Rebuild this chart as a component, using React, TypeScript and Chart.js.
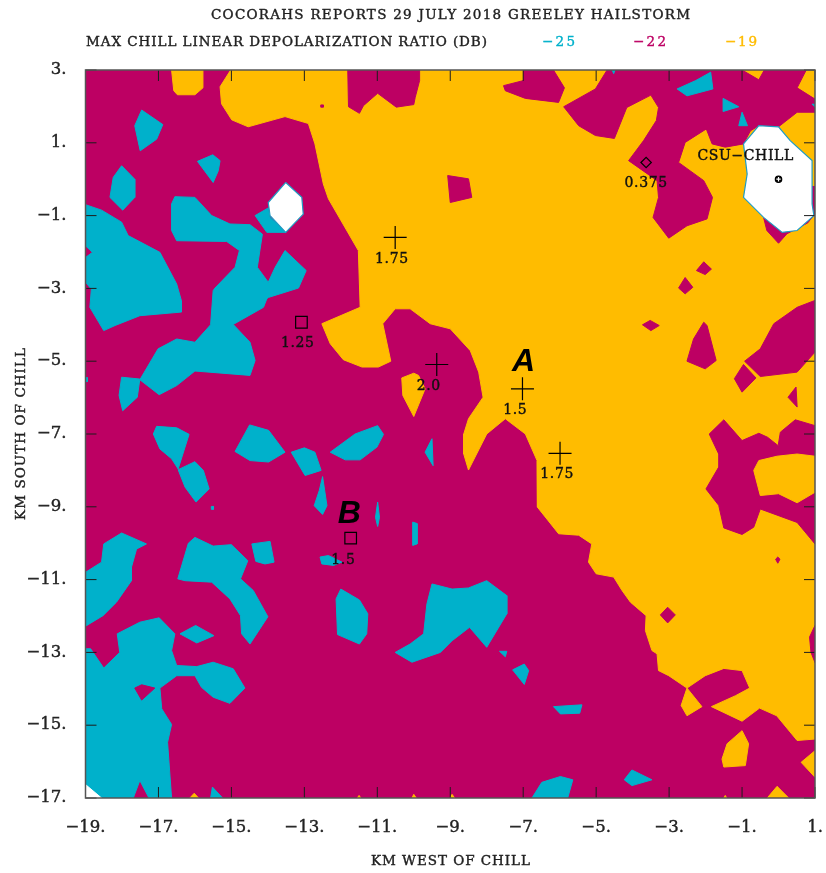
import React, { useEffect, useRef } from "react";
import { Chart, registerables } from "chart.js";

Chart.register(...registerables);

type P = [number, number];

const xTicks = [-19, -17, -15, -13, -11, -9, -7, -5, -3, -1, 1];
const yTicks = [3, 1, -1, -3, -5, -7, -9, -11, -13, -15, -17];

const MAGENTA = "#bd0063";
const CYAN = "#00b1cb";
const YELLOW = "#ffbc00";

const baseField: P[][] = [[[-19, 3], [1, 3], [1, -17], [-19, -17]]];

const yellowRegions: P[][] = [
  [[-15.02, 3], [-15.31, 2.54], [-15.27, 2.07], [-14.99, 1.63], [-14.54, 1.44], [-13.53, 1.72], [-12.89, 1.53], [-12.71, 0.97], [-12.48, -0.13], [-12.34, -0.54], [-11.52, -1.96], [-11.47, -3.52], [-12.52, -3.97], [-12.29, -4.52], [-11.93, -4.96], [-11.42, -5.16], [-10.97, -5.16], [-10.63, -5.0], [-10.85, -3.97], [-10.51, -3.56], [-10.1, -3.56], [-9.55, -3.97], [-9.0, -4.11], [-8.45, -4.71], [-8.22, -5.3], [-8.1, -5.99], [-8.5, -6.58], [-8.63, -7.0], [-8.63, -7.55], [-8.5, -7.99], [-8.0, -7.0], [-7.49, -6.58], [-6.94, -7.0], [-6.62, -7.73], [-6.61, -9.01], [-6.03, -9.74], [-5.48, -9.78], [-5.12, -10.02], [-5.21, -10.52], [-5.0, -10.84], [-4.52, -10.93], [-4.29, -11.3], [-4.06, -11.62], [-3.63, -11.99], [-3.65, -12.4], [-3.47, -12.95], [-3.33, -13.04], [-3.29, -13.5], [-3.01, -13.64], [-2.51, -13.98], [-2.01, -13.64], [-1.5, -13.44], [-1.0, -13.5], [-0.79, -13.98], [-1.18, -14.19], [-1.84, -14.49], [-1.0, -14.89], [-0.52, -14.53], [-0.05, -14.74], [0.51, -15.42], [1, -15.38], [1, 3]],
  [[-16.64, 3], [-16.58, 2.43], [-16.48, 2.32], [-16.0, 2.32], [-15.78, 2.51], [-15.78, 3]],
  [[-10.33, -5.46], [-10.3, -5.94], [-10.0, -6.52], [-9.69, -5.76], [-9.87, -5.39], [-10.0, -5.33]],
  [[-2.51, -13.98], [-2.67, -14.46], [-2.51, -14.74], [-2.1, -14.49]],
  [[-1.0, -15.15], [-1.41, -15.51], [-1.55, -15.93], [-1.5, -16.15], [-0.91, -16.11], [-0.82, -15.51]],
  [[1, -15.7], [0.62, -16.02], [1, -16.43]],
  [[-0.04, -16.68], [-0.31, -17], [0.28, -17]],
  [[-16.14, -17], [-16.02, -16.87], [-15.9, -17]],
  [[-11.55, -17], [-11.5, -16.93], [-11.45, -17]],
  [[-10.05, -17], [-10.0, -16.9], [-9.93, -17]],
  [[-9.0, -17], [-8.95, -16.9], [-8.88, -17]],
  [[-1.5, -17], [-1.46, -16.93], [-1.42, -17]],
];

const magentaIslands: P[][] = [
  [[-11.81, 3], [-11.79, 1.99], [-11.49, 1.81], [-11.38, 2.02], [-10.99, 2.36], [-10.48, 1.98], [-10.0, 2.05], [-9.96, 2.25], [-9.84, 2.71], [-9.84, 3]],
  [[-6.99, 3], [-6.99, 2.71], [-7.54, 2.57], [-7.49, 2.43], [-6.94, 2.22], [-6.03, 2.11], [-5.87, 2.51], [-6.17, 3]],
  [[-4.7, 3], [-5.02, 2.48], [-5.89, 1.99], [-5.48, 1.47], [-5.02, 1.2], [-4.5, 1.12], [-4.16, 1.97], [-3.5, 2.31], [-3.29, 1.97], [-3.35, 1.61], [-3.7, 1.06], [-4.11, 0.51], [-3.33, -0.04], [-3.29, -0.5], [-3.44, -1.05], [-3.01, -1.62], [-2.51, -1.28], [-1.96, -1.09], [-1.81, -0.5], [-2.05, -0.04], [-2.74, 0.46], [-2.56, 1.01], [-1.98, 1.38], [-1.82, 0.97], [-1.46, 0.88], [-0.96, 0.97], [-0.77, 1.33], [-0.54, 1.47], [0, 1.44], [0.51, 1.84], [1, 1.84], [1, 2.2], [0.51, 2.51], [0.76, 3], [-0.39, 3], [-0.54, 2.73], [-1.0, 3]],
  [[-0.41, -1.05], [-0.32, -1.41], [0, -1.76], [0.23, -1.5], [0.8, -1.2], [1, -0.95], [1, -0.2], [0.8, -0.2]],
  [[-9.07, 0.1], [-8.5, 0.01], [-8.41, -0.5], [-9.0, -0.64]],
  [[-2.05, -2.27], [-1.84, -2.47], [-2.01, -2.62], [-2.25, -2.51]],
  [[-2.56, -2.7], [-2.35, -2.97], [-2.56, -3.15], [-2.74, -2.99]],
  [[-3.52, -3.88], [-3.27, -4.02], [-3.5, -4.16], [-3.73, -4.0]],
  [[-2.05, -3.93], [-1.96, -4.02], [-1.71, -4.98], [-2.01, -5.21], [-2.51, -5.0], [-2.33, -4.39]],
  [[1, -3.33], [0.51, -3.52], [-0.13, -3.97], [-0.5, -4.66], [-0.93, -5], [-0.5, -5.42], [0.51, -5.3], [1, -4.75]],
  [[-0.96, -5.09], [-0.62, -5.46], [-1.0, -5.85], [-1.21, -5.48]],
  [[0.48, -5.71], [0.51, -6.26], [0.26, -5.99]],
  [[-1.5, -6.61], [-1, -7.18], [-0.54, -6.98], [-0.3, -7.09], [-0.01, -7.32], [0.05, -6.95], [0.46, -6.61], [1, -6.77], [1, -10.02], [0.51, -9.43], [-0.5, -9.06], [-0.68, -9.56], [-1, -9.76], [-1.5, -9.58], [-1.64, -8.96], [-1.99, -8.51], [-1.64, -7.91], [-1.64, -7.55], [-1.9, -7.0]],
  [[-0.08, -10.44], [-0.02, -10.38], [0.04, -10.44], [-0.02, -10.55]],
  [[-3.04, -11.76], [-2.83, -11.97], [-3.04, -12.19], [-3.24, -11.97]],
  [[1, -12.26], [0.85, -12.58], [0.89, -13.0], [1, -13.28]],
  [[-12.55, 2.04], [-12.48, 2.04], [-12.48, 1.98], [-12.55, 1.98]],
];

const yellowHoles: P[][] = [
  [[-0.68, -8.0], [-0.54, -7.73], [-0.04, -7.61], [0.51, -7.55], [1, -7.61], [1, -8.6], [0.51, -8.89], [0, -8.64], [-0.5, -8.69]],
];

const cyanPatches: P[][] = [
  [[-19, -0.7], [-18.56, -0.85], [-18.01, -1.18], [-17.83, -1.55], [-16.96, -2.01], [-16.5, -2.88], [-16.37, -3.34], [-16.37, -3.65], [-17.51, -3.75], [-18.19, -4.02], [-18.5, -4.16], [-18.88, -3.52], [-18.84, -3.02], [-19, -2.83], [-19, -2.15], [-18.81, -2.01], [-19, -1.83]],
  [[-17.46, 1.9], [-16.88, 1.5], [-17.05, 1.1], [-17.5, 0.78], [-17.65, 1.47]],
  [[-18.01, 0.37], [-17.65, 0.0], [-17.65, -0.5], [-17.98, -0.85], [-18.33, -0.5], [-18.24, 0.05]],
  [[-15.51, 0.67], [-15.31, 0.51], [-15.36, 0.23], [-15.5, -0.09], [-15.93, 0.49]],
  [[-16.55, -0.48], [-16.0, -0.5], [-15.54, -1], [-15.04, -1.23], [-14.49, -1.25], [-14.15, -1.51], [-14.29, -2.42], [-13.99, -2.83], [-13.8, -2.42], [-13.53, -1.96], [-12.95, -2.51], [-13.16, -2.99], [-13.99, -3.25], [-14.03, -3.29], [-14.12, -3.52], [-14.95, -3.99], [-14.49, -4.48], [-14.35, -4.98], [-14.49, -5.39], [-16, -5.27], [-16.5, -5.67], [-16.98, -5.92], [-17.51, -5.51], [-17.01, -4.66], [-16.5, -4.39], [-16, -4.48], [-15.57, -4.0], [-15.5, -3.06], [-15.45, -2.99], [-14.9, -2.42], [-14.78, -1.96], [-15.13, -1.71], [-16.5, -1.69], [-16.64, -1.41], [-16.64, -0.68]],
  [[-14.35, -1], [-13.99, -0.79], [-13.94, -1.05], [-13.51, -1.46], [-14.03, -1.46]],
  [[-18.01, -5.44], [-17.51, -5.49], [-17.58, -5.99], [-17.98, -6.36], [-18.08, -5.94]],
  [[-19, -5.45], [-18.95, -5.45], [-18.95, -5.56], [-19, -5.56]],
  [[-17.05, -6.79], [-16.5, -6.83], [-16.16, -7.01], [-16.46, -7.96], [-16.64, -7.68], [-16.96, -7.41], [-17.14, -7.0]],
  [[-16.46, -7.98], [-16, -7.76], [-15.77, -8], [-15.61, -8.51], [-15.97, -8.87], [-16.27, -8.46]],
  [[-15.55, -8.99], [-15.49, -8.99], [-15.49, -9.07], [-15.55, -9.07]],
  [[-14.5, -6.75], [-13.98, -6.9], [-13.53, -7.5], [-13.98, -7.77], [-14.49, -7.73], [-14.9, -7.48]],
  [[-13.36, -7.5], [-13.0, -7.38], [-12.71, -7.5], [-12.54, -8], [-12.98, -8.14]],
  [[-12.5, -8.17], [-12.38, -8.97], [-12.5, -9.21], [-12.73, -8.97], [-12.59, -8.55]],
  [[-12.29, -7.5], [-11.61, -7], [-10.99, -6.77], [-10.83, -7.01], [-11.01, -7.36], [-11.47, -7.71], [-11.88, -7.71]],
  [[-10.99, -8.87], [-10.94, -9.29], [-10.99, -9.54], [-11.05, -9.29]],
  [[-10.03, -9.42], [-9.91, -9.46], [-9.91, -10.02], [-10.03, -10.06]],
  [[-9.5, -7.13], [-9.47, -7.87], [-9.69, -7.5]],
  [[-12.57, -10.38], [-12.34, -10.34], [-11.97, -10.52], [-12.2, -10.61], [-12.52, -10.57]],
  [[-18.01, -9.72], [-17.33, -10.02], [-17.6, -10.16], [-17.74, -10.66], [-17.74, -11.03], [-18.15, -11.62], [-18.52, -11.99], [-19, -12.28], [-19, -10.8], [-18.56, -10.52], [-18.5, -10.02]],
  [[-16, -9.84], [-15.5, -10.08], [-15, -10.04], [-14.55, -10.48], [-14.75, -10.98], [-14.4, -11.3], [-14, -12.02], [-14.49, -12.77], [-14.72, -12.49], [-14.75, -11.99], [-15.04, -11.53], [-15.54, -11.07], [-16.27, -11.03], [-16.47, -10.98], [-16.18, -10.0]],
  [[-14.44, -10.02], [-13.94, -9.95], [-13.83, -10.52], [-14.08, -10.57], [-14.33, -10.5]],
  [[-19, -12.9], [-18.86, -12.9], [-18.5, -13.43], [-18.06, -13], [-18.13, -12.49], [-17.51, -12.17], [-16.98, -12.05], [-16.55, -12.49], [-16.64, -12.95], [-16.5, -13.36], [-15.95, -13.39], [-15.5, -13.27], [-14.95, -13.45], [-14.63, -13.98], [-15.04, -14.4], [-15.5, -14.23], [-15.82, -13.96], [-16, -13.64], [-16.5, -13.64], [-16.96, -13.98], [-16.91, -14.55], [-16.64, -14.98], [-16.75, -15.47], [-16.64, -17], [-17.26, -17], [-17.51, -16.52], [-17.69, -17], [-19, -17]],
  [[-16.41, -12.49], [-15.98, -12.26], [-15.48, -12.54], [-15.95, -12.74]],
  [[-15.57, -17], [-15.52, -16.7], [-15.24, -17]],
  [[-12.0, -11.26], [-11.49, -11.56], [-11.26, -11.94], [-11.29, -12.49], [-11.49, -12.77], [-12.09, -12.51], [-12.13, -11.53]],
  [[-9.5, -11.12], [-8.95, -11.26], [-8.5, -11.23], [-8, -11.03], [-7.45, -11.44], [-7.45, -11.94], [-8, -12.86], [-8.47, -12.31], [-8.95, -12.68], [-9.27, -13], [-10.05, -13.27], [-10.51, -13], [-10.1, -12.77], [-9.73, -12.49], [-9.64, -11.67]],
  [[-7.65, -12.97], [-7.45, -12.97], [-7.49, -13.12]],
  [[-7.29, -13.48], [-6.97, -13.32], [-6.85, -13.5], [-6.97, -13.88]],
  [[-6.17, -14.49], [-5.39, -14.44], [-5.45, -14.67], [-5.98, -14.69]],
  [[-4.23, -16.5], [-4.02, -16.23], [-3.47, -16.5], [-4.02, -16.66]],
  [[-6.76, -17], [-6.49, -16.57], [-5.98, -16.41], [-5.64, -16.5], [-5.78, -17]],
  [[-2.78, 2.48], [-2.27, 2.71], [-1.86, 2.94], [-1.8, 2.48], [-2.51, 2.29]],
  [[-1.52, 2.22], [-1.09, 1.99], [-1.52, 1.86]],
  [[-1, 1.84], [-0.85, 1.47], [-1.09, 1.47]],
  [[0.92, 2.06], [1, 2.06], [1, 1.98]],
  [[-4.56, 3], [-4.48, 3], [-4.52, 2.9]],
];

const magentaOverCyan: P[][] = [
  [[-17.65, -13.98], [-17.46, -13.89], [-17.1, -13.98], [-17.46, -14.31]],
];

const whiteHoles: P[][] = [
  [[-13.51, -0.09], [-13.07, -0.5], [-13.03, -0.96], [-13.51, -1.46], [-13.94, -1.0], [-13.99, -0.64]],
  [[-0.96, 0.97], [-0.54, 1.47], [0, 1.44], [0.32, 1.06], [0.92, 0.51], [0.92, -0.68], [0.97, -1.0], [0.51, -1.41], [0.1, -1.46], [-0.41, -1.05], [-0.96, -0.5], [-0.86, 0.14]],
];

const whiteCorner: P[][] = [[[-19, -16.63], [-19, -17], [-18.56, -17]]];

const crossPoints = [{ x: -10.51, y: -1.6 }, { x: -9.37, y: -5.09 }, { x: -7.02, y: -5.76 }, { x: -5.99, y: -7.53 }];
const squarePoints = [{ x: -13.08, y: -3.93 }, { x: -11.73, y: -9.86 }];
const diamondPoints = [{ x: -3.63, y: 0.46 }];
const chillPoint = [{ x: 0, y: 0 }];

const reportLabels: { t: string; x: number; y: number }[] = [
  { t: "1.75", x: -10.6, y: -2.21 },
  { t: "2.0", x: -9.59, y: -5.7 },
  { t: "1.5", x: -7.22, y: -6.34 },
  { t: "1.75", x: -6.07, y: -8.1 },
  { t: "1.25", x: -13.18, y: -4.52 },
  { t: "1.5", x: -11.93, y: -10.46 },
  { t: "0.375", x: -3.63, y: -0.11 },
  { t: "CSU\u2212CHILL", x: -0.9, y: 0.62 },
];
const zoneLabels: { t: string; x: number; y: number }[] = [
  { t: "A", x: -6.99, y: -5.03 },
  { t: "B", x: -11.77, y: -9.21 },
];

const TITLE = "COCORAHS REPORTS 29 JULY 2018 GREELEY HAILSTORM";
const SUBTITLE = "MAX CHILL LINEAR DEPOLARIZATION RATIO (DB)";
const XTITLE = "KM WEST OF CHILL";
const YTITLE = "KM SOUTH OF CHILL";
const legendLevels = ["\u221225", "\u221222", "\u221219"];
const legendColors = [CYAN, MAGENTA, YELLOW];

const SERIF = '"DejaVu Serif", serif';
const INK = "#222";

function fitText(ctx: any, text: string, x0: number, x1: number, y: number, font: string, color: string) {
  ctx.save();
  ctx.font = font;
  ctx.fillStyle = color;
  ctx.strokeStyle = color;
  ctx.lineWidth = 0.4;
  ctx.textBaseline = "middle";
  ctx.textAlign = "left";
  ctx.letterSpacing = "0px";
  const w = ctx.measureText(text).width;
  ctx.letterSpacing = (x1 - x0 - w) / (text.length - 1) + "px";
  ctx.fillText(text, x0, y);
  ctx.strokeText(text, x0, y);
  ctx.restore();
}

const decorPlugin = {
  id: "decor",
  afterDatasetsDraw(chart: any) {
    const { ctx, chartArea: a, scales } = chart;
    const sx = scales.x;
    const sy = scales.y;
    ctx.save();
    ctx.strokeStyle = "#1c1c1c";
    ctx.lineWidth = 1;
    ctx.beginPath();
    const tick = 11;
    for (const v of xTicks) {
      const p = sx.getPixelForValue(v);
      ctx.moveTo(p, a.top);
      ctx.lineTo(p, a.top + tick);
      ctx.moveTo(p, a.bottom);
      ctx.lineTo(p, a.bottom - tick);
    }
    for (const v of yTicks) {
      const p = sy.getPixelForValue(v);
      ctx.moveTo(a.left, p);
      ctx.lineTo(a.left + tick, p);
      ctx.moveTo(a.right, p);
      ctx.lineTo(a.right - tick, p);
    }
    ctx.stroke();
    ctx.strokeStyle = "#555";
    ctx.lineWidth = 1.5;
    ctx.strokeRect(a.left, a.top, a.right - a.left, a.bottom - a.top);

    ctx.textAlign = "center";
    ctx.textBaseline = "middle";
    ctx.fillStyle = "#111";
    ctx.strokeStyle = "#111";
    ctx.lineWidth = 0.4;
    ctx.font = `14px ${SERIF}`;
    ctx.letterSpacing = "0.6px";
    for (const l of reportLabels) {
      const px = sx.getPixelForValue(l.x);
      const py = sy.getPixelForValue(l.y);
      ctx.fillText(l.t, px, py);
      ctx.strokeText(l.t, px, py);
    }
    ctx.letterSpacing = "0px";
    ctx.fillStyle = "#000";
    ctx.font = `italic bold 32px "Liberation Sans", sans-serif`;
    for (const l of zoneLabels) {
      ctx.fillText(l.t, sx.getPixelForValue(l.x), sy.getPixelForValue(l.y));
    }
    ctx.restore();

    const headFont = `13.5px ${SERIF}`;
    fitText(ctx, TITLE, 211, 690, 15, headFont, INK);
    fitText(ctx, SUBTITLE, 86, 487, 42, headFont, INK);
    const spans = [[542, 575], [633, 666], [725, 757]];
    legendLevels.forEach((t, i) => fitText(ctx, t, spans[i][0], spans[i][1], 42, headFont, legendColors[i]));
    fitText(ctx, XTITLE, 371, 530, 861, headFont, INK);
    ctx.save();
    ctx.translate(21, 434);
    ctx.rotate(-Math.PI / 2);
    fitText(ctx, YTITLE, -86, 86, 0, headFont, INK);
    ctx.restore();
  },
};

function polygons(list: P[][], color: string, border = color, borderWidth = 1) {
  return list.map((poly) => ({
    type: "scatter" as const,
    data: [...poly, poly[0]].map(([x, y]) => ({ x, y })),
    showLine: true,
    fill: "shape",
    backgroundColor: color,
    borderColor: border,
    borderWidth,
    pointRadius: 0,
    tension: 0,
  }));
}

function markers(data: { x: number; y: number }[], style: string, radius: number, fill = "transparent", border = "#000") {
  return {
    type: "scatter" as const,
    data,
    showLine: false,
    pointStyle: style,
    pointRadius: radius,
    pointBackgroundColor: fill,
    pointBorderColor: border,
    pointBorderWidth: 1.2,
    clip: false,
  };
}

export default function App() {
  const ref = useRef<HTMLCanvasElement>(null);
  useEffect(() => {
    document.body.style.margin = "0";
    const layers: any[] = [
      ...polygons(baseField, MAGENTA),
      ...polygons(yellowRegions, YELLOW),
      ...polygons(magentaIslands, MAGENTA),
      ...polygons(yellowHoles, YELLOW),
      ...polygons(cyanPatches, CYAN),
      ...polygons(magentaOverCyan, MAGENTA),
      ...polygons(whiteHoles, "#ffffff", "#1f9cc4", 1.2),
      ...polygons(whiteCorner, "#ffffff"),
      markers(crossPoints, "cross", 11.5),
      markers(squarePoints, "rect", 8.2),
      markers(diamondPoints, "rectRot", 5.2),
      markers(chillPoint, "circle", 3.2, "#000"),
      markers(chillPoint, "cross", 2.2, "transparent", "#fff"),
    ];
    layers.forEach((d, i) => (d.order = layers.length - i));
    const tickFont = { family: "DejaVu Serif", size: 16.5 };
    const chart = new Chart(ref.current!, {
      type: "scatter",
      data: { datasets: layers },
      plugins: [decorPlugin],
      options: {
        animation: false,
        responsive: false,
        devicePixelRatio: 1,
        layout: { autoPadding: false, padding: { top: 70, right: 11, left: 0, bottom: 0 } },
        plugins: { legend: { display: false }, title: { display: false }, tooltip: { enabled: false } },
        scales: {
          x: {
            type: "linear",
            min: -19,
            max: 1,
            afterBuildTicks: (s: any) => { s.ticks = xTicks.map((value) => ({ value })); },
            afterFit: (s: any) => { s.height = 75; s.paddingLeft = 0; s.paddingRight = 0; },
            grid: { display: false },
            border: { display: false },
            ticks: {
              maxRotation: 0,
              padding: 12,
              color: INK,
              textStrokeColor: INK,
              textStrokeWidth: 0.4,
              font: tickFont,
              callback: (v: any) => `${String(v).replace("-", "\u2212")}.`,
            },
          },
          y: {
            type: "linear",
            min: -17,
            max: 3,
            afterBuildTicks: (s: any) => { s.ticks = yTicks.map((value) => ({ value })); },
            afterFit: (s: any) => { s.width = 85.5; s.paddingTop = 0; s.paddingBottom = 0; },
            grid: { display: false },
            border: { display: false },
            ticks: {
              padding: 11,
              color: INK,
              textStrokeColor: INK,
              textStrokeWidth: 0.4,
              font: tickFont,
              callback: (v: any) => `${String(v).replace("-", "\u2212")}.`,
            },
          },
        },
      } as any,
    });
    return () => chart.destroy();
  }, []);
  return <canvas ref={ref} width={826} height={873} style={{ display: "block", width: 826, height: 873, filter: "blur(0.45px)" }} />;
}
